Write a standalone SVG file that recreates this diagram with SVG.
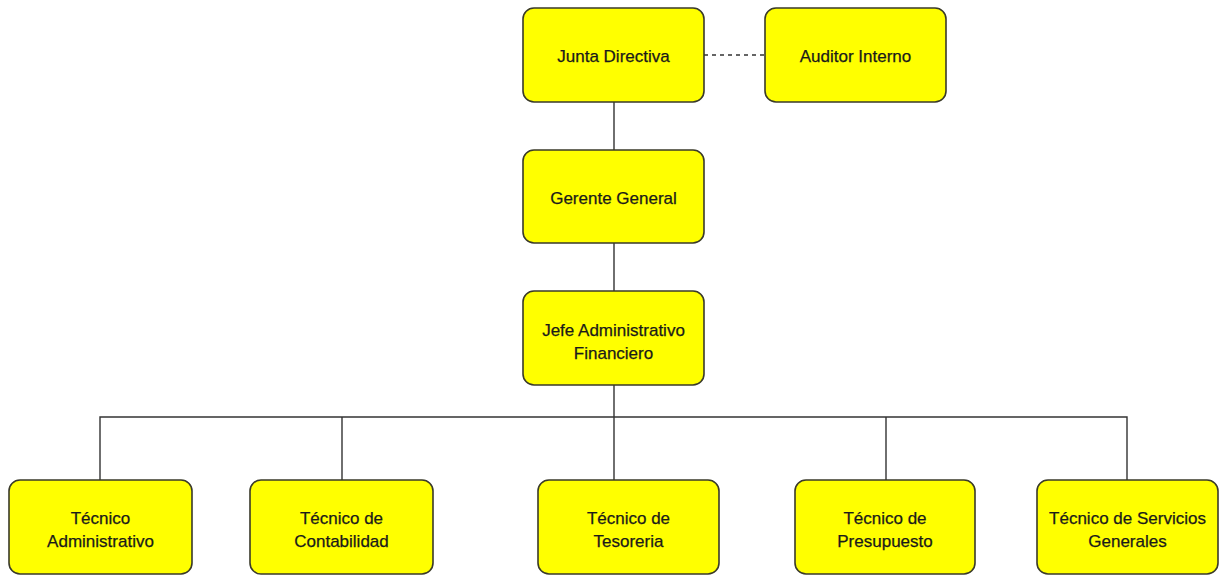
<svg xmlns="http://www.w3.org/2000/svg" width="1220" height="576" viewBox="0 0 1220 576">
<style>
.box{fill:#ffff00;stroke:#3a3a2a;stroke-width:1.6}
.lbl{font-family:"Liberation Sans",Arial,sans-serif;font-size:17px;fill:#1a1a1a;stroke:#1a1a1a;stroke-width:0.25;text-anchor:middle}
.ln{stroke:#333;stroke-width:1.4;fill:none}
</style>
<rect width="1220" height="576" fill="#ffffff"/>
<g id="connectors">
<line class="ln" x1="704" y1="55" x2="765" y2="55" stroke-dasharray="4,4"/>
<line class="ln" x1="614" y1="102" x2="614" y2="150"/>
<line class="ln" x1="614" y1="243" x2="614" y2="291"/>
<line class="ln" x1="614" y1="385" x2="614" y2="480"/>
<polyline class="ln" points="100,480 100,417 1127,417 1127,480"/>
<line class="ln" x1="342" y1="417" x2="342" y2="480"/>
<line class="ln" x1="886" y1="417" x2="886" y2="480"/>
</g>
<g id="junta"><rect class="box" x="523" y="8" width="181" height="94" rx="11"/><text class="lbl" x="613.5" y="62">Junta Directiva</text></g>
<g id="auditor"><rect class="box" x="765" y="8" width="181" height="94" rx="11"/><text class="lbl" x="855.5" y="62">Auditor Interno</text></g>
<g id="gerente"><rect class="box" x="523" y="150" width="181" height="93" rx="11"/><text class="lbl" x="613.5" y="204">Gerente General</text></g>
<g id="jefe"><rect class="box" x="523" y="291" width="181" height="94" rx="11"/><text class="lbl" x="613.5" y="336">Jefe Administrativo</text><text class="lbl" x="613.5" y="359">Financiero</text></g>
<g id="tadmin"><rect class="box" x="9" y="480" width="183" height="94" rx="11"/><text class="lbl" x="100.5" y="524">Técnico</text><text class="lbl" x="100.5" y="547">Administrativo</text></g>
<g id="tcont"><rect class="box" x="250" y="480" width="183" height="94" rx="11"/><text class="lbl" x="341.5" y="524">Técnico de</text><text class="lbl" x="341.5" y="547">Contabilidad</text></g>
<g id="ttes"><rect class="box" x="538" y="480" width="181" height="94" rx="11"/><text class="lbl" x="628.5" y="524">Técnico de</text><text class="lbl" x="628.5" y="547">Tesoreria</text></g>
<g id="tpres"><rect class="box" x="795" y="480" width="180" height="94" rx="11"/><text class="lbl" x="885" y="524">Técnico de</text><text class="lbl" x="885" y="547">Presupuesto</text></g>
<g id="tserv"><rect class="box" x="1037" y="480" width="181" height="94" rx="11"/><text class="lbl" x="1127.5" y="524">Técnico de Servicios</text><text class="lbl" x="1127.5" y="547">Generales</text></g>
</svg>
